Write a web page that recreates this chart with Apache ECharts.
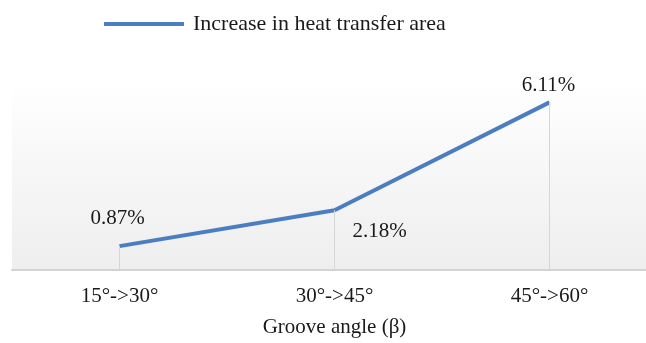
<!DOCTYPE html>
<html>
<head>
<meta charset="utf-8">
<script src="https://cdn.jsdelivr.net/npm/echarts@6/dist/echarts.min.js"></script>
<style>
  html, body { margin: 0; padding: 0; background: #ffffff; }
  #chart { width: 646px; height: 343px; }
</style>
</head>
<body>
<div id="chart"></div>
<script>
// Groove angle steps and the matching increase in heat transfer area (%)
var categories = ['15°->30°', '30°->45°', '45°->60°'];
var increaseValues = [0.87, 2.18, 6.11];
var seriesName = 'Increase in heat transfer area';
var xAxisTitle = 'Groove angle (β)';

// Label placement for each point: [dx, dy] relative to the point
var labelOffsets = [[-2, -17], [45, 32], [-1, -6]];

var serif = '"Liberation Serif", "DejaVu Serif", serif';
var lineBlue = '#4a7ec0';

var chart = echarts.init(document.getElementById('chart'));

var seriesData = increaseValues.map(function (v, i) {
  return {
    value: v,
    label: { offset: labelOffsets[i] }
  };
});

// Vertical drop lines from each point down to the axis
var dropLines = increaseValues.map(function (v, i) {
  return [{ coord: [categories[i], 0] }, { coord: [categories[i], v] }];
});

chart.setOption({
  animation: false,
  backgroundColor: '#ffffff',
  legend: {
    left: 99,
    top: 8,
    icon: 'rect',
    itemWidth: 80,
    itemHeight: 4,
    textStyle: {
      fontFamily: serif,
      fontSize: 22,
      color: '#1a1a1a',
      padding: [0, 0, 0, 4]
    },
    data: [seriesName]
  },
  grid: {
    left: 12,
    width: 645,
    top: 78,
    height: 192,
    outerBoundsMode: 'none',
    containLabel: false,
    show: true,
    borderWidth: 0,
    backgroundColor: {
      type: 'linear', x: 0, y: 0, x2: 0, y2: 1,
      colorStops: [
        { offset: 0, color: '#ffffff' },
        { offset: 1, color: '#eeeeee' }
      ]
    }
  },
  xAxis: {
    type: 'category',
    data: categories,
    boundaryGap: true,
    axisLine: { lineStyle: { color: '#d3d3d3', width: 2 } },
    axisTick: { show: false },
    axisLabel: {
      fontFamily: serif,
      fontSize: 21,
      color: '#1a1a1a',
      margin: 16
    },
    name: xAxisTitle,
    nameLocation: 'middle',
    nameGap: 47,
    nameTextStyle: {
      fontFamily: serif,
      fontSize: 21,
      color: '#1a1a1a'
    },
    splitLine: { show: false }
  },
  yAxis: {
    type: 'value',
    min: 0,
    max: 7,
    show: false,
    splitLine: { show: false }
  },
  series: [{
    name: seriesName,
    type: 'line',
    data: seriesData,
    symbol: 'circle',
    symbolSize: 1,
    showSymbol: true,
    itemStyle: { color: lineBlue },
    lineStyle: { color: lineBlue, width: 4 },
    label: {
      show: true,
      position: 'top',
      distance: 0,
      fontFamily: serif,
      fontSize: 21,
      color: '#1a1a1a',
      formatter: function (p) { return p.value.toFixed(2) + '%'; }
    },
    markLine: {
      silent: true,
      symbol: 'none',
      label: { show: false },
      lineStyle: { color: '#d6d6d6', width: 1, type: 'solid' },
      data: dropLines
    },
    z: 3
  }]
});
</script>
</body>
</html>
